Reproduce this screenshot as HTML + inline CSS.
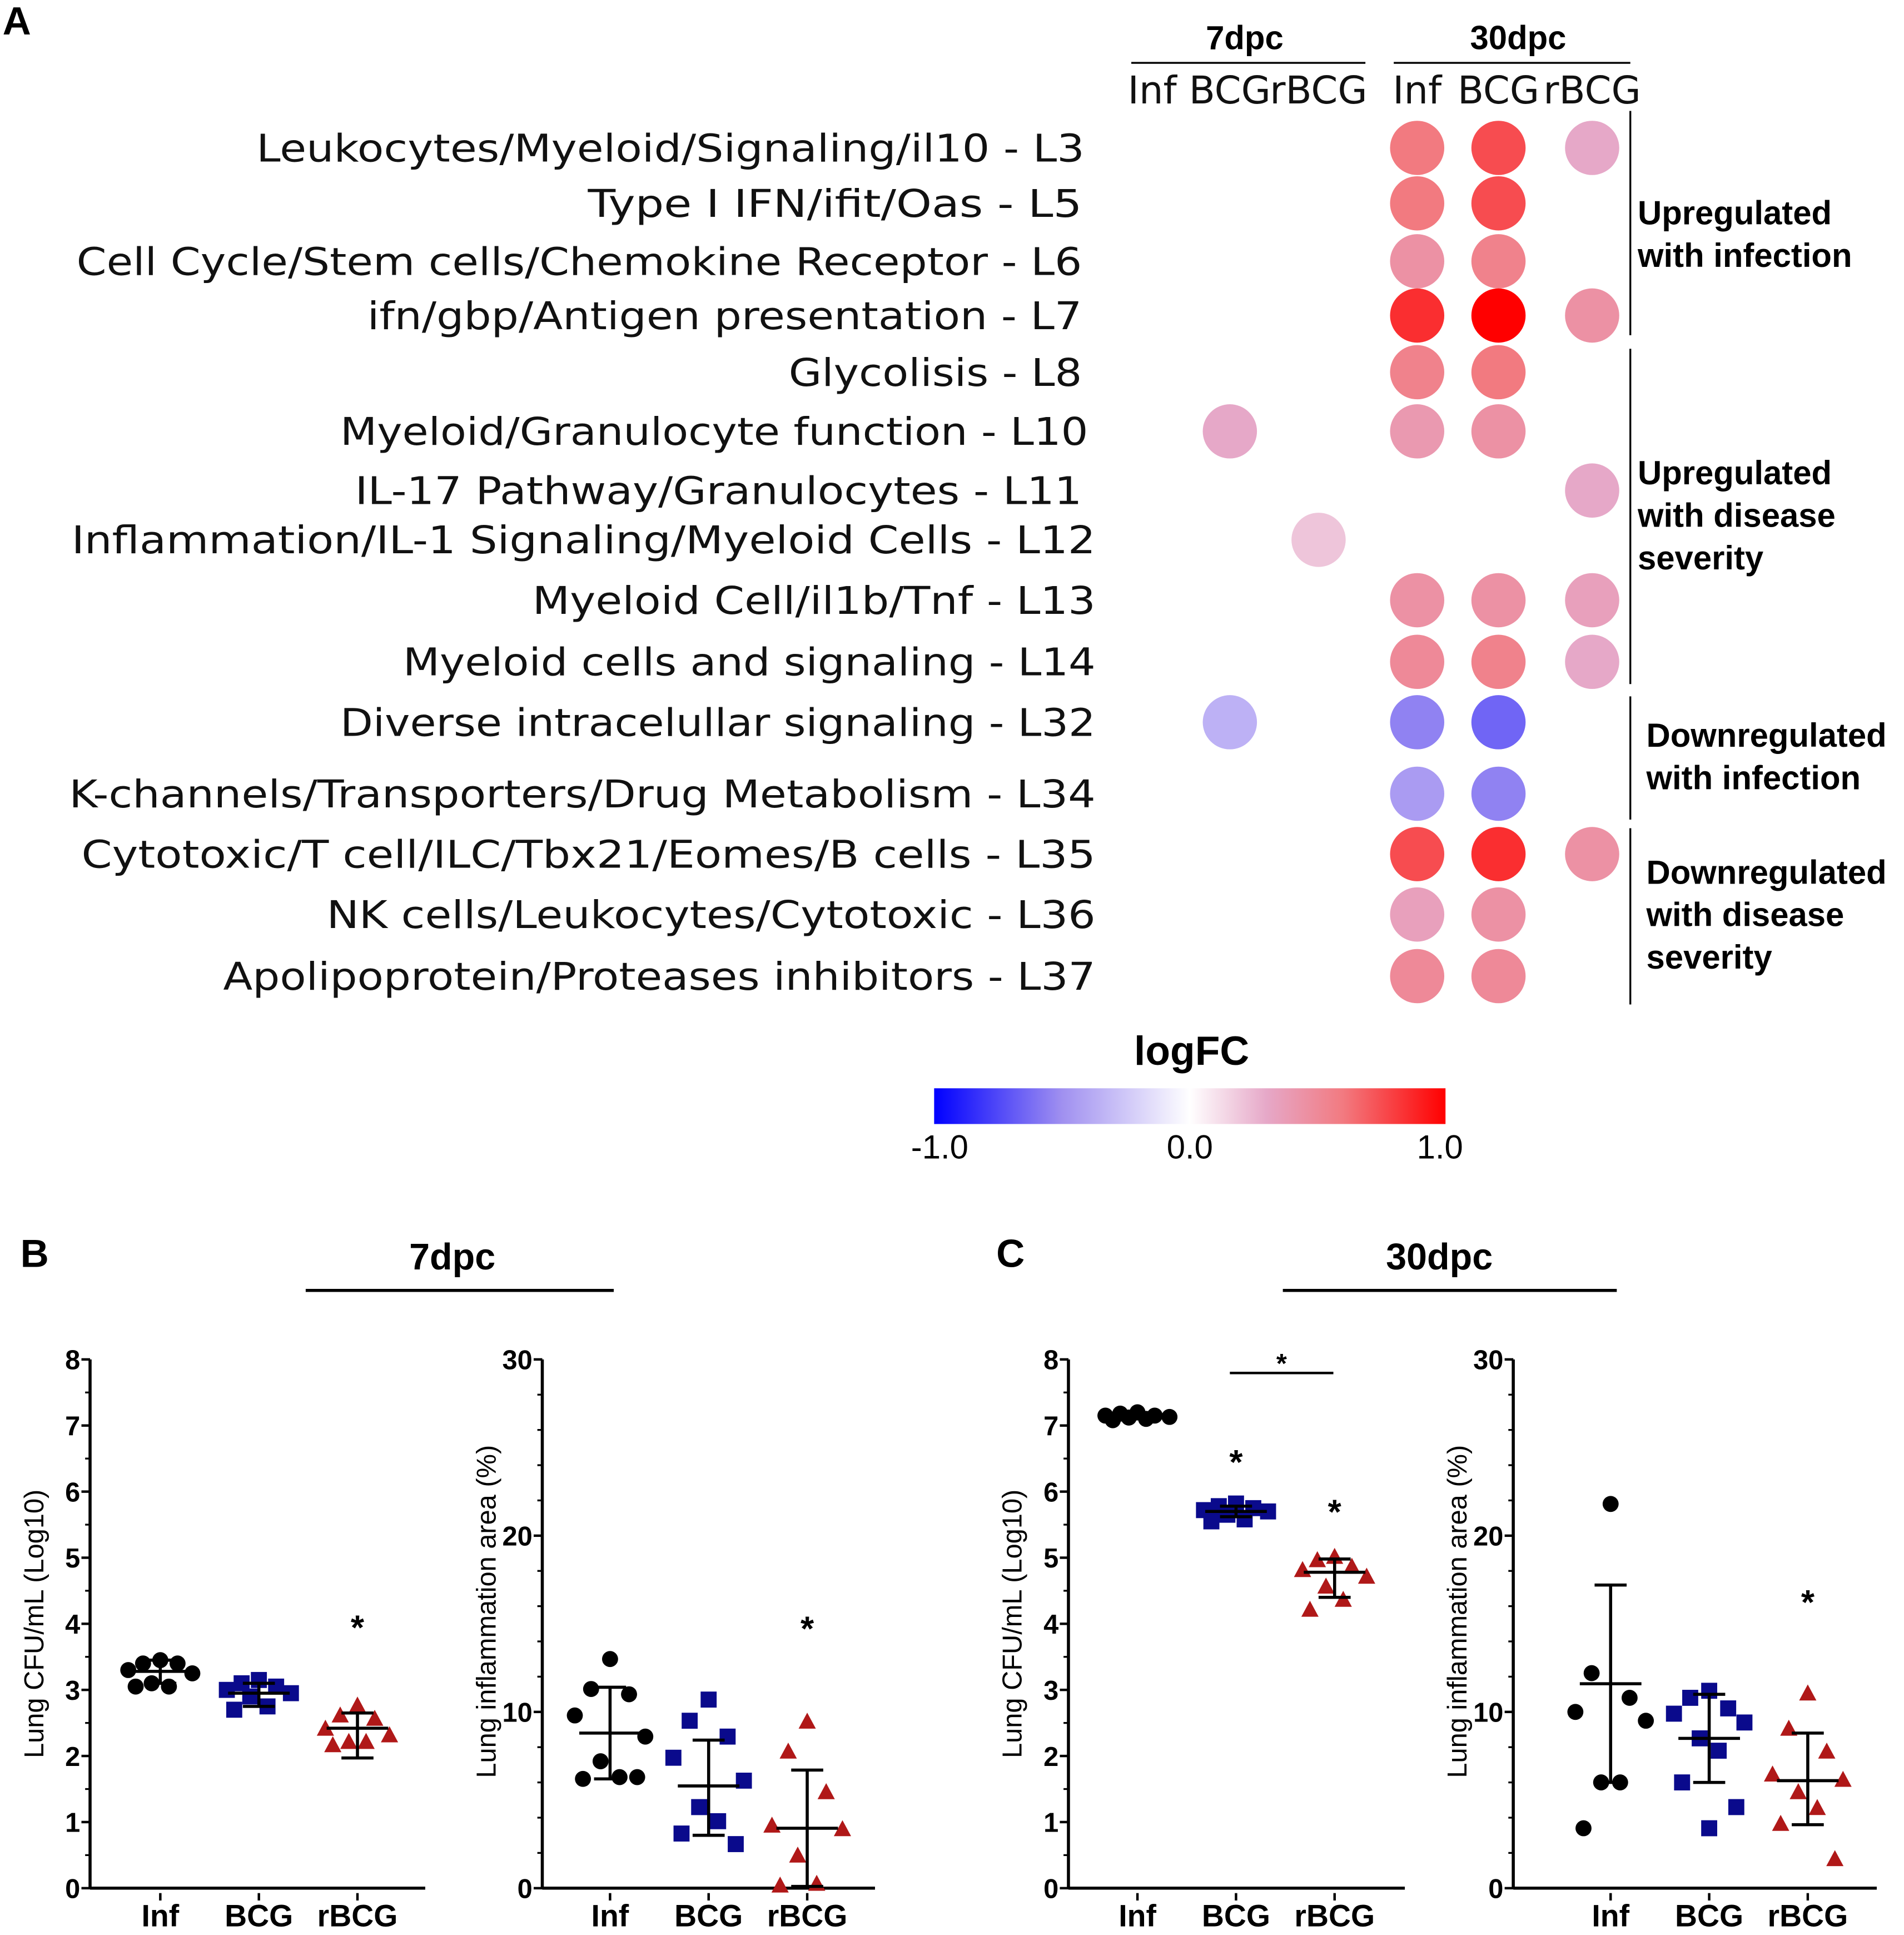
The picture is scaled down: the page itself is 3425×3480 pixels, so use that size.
<!DOCTYPE html>
<html><head><meta charset="utf-8"><style>
html,body{margin:0;padding:0;background:#fff}
svg{display:block}
.lab{font-family:"DejaVu Sans",sans-serif;font-size:31px;fill:#111}
.b{font-family:"Liberation Sans",sans-serif;font-weight:bold;fill:#000}
.n{font-family:"Liberation Sans",sans-serif;fill:#000}
</style></head><body>
<svg id="fig" width="3425" height="3480" viewBox="0 0 1545 1570" xmlns="http://www.w3.org/2000/svg">
<defs>
<linearGradient id="lg" x1="0" x2="1" y1="0" y2="0">
<stop offset="0" stop-color="#0000ff"/><stop offset="0.25" stop-color="#a090f0"/><stop offset="0.5" stop-color="#ffffff"/><stop offset="0.65" stop-color="#e6a8c8"/><stop offset="0.8" stop-color="#f27a80"/><stop offset="1" stop-color="#ff0000"/>
</linearGradient>
</defs>
<g id="pa"></g>
<g id="pb"></g>
</svg>
<script>
const NS='http://www.w3.org/2000/svg';
function mk(p,t,a,txt){const e=document.createElementNS(NS,t);for(const k in a)e.setAttribute(k,a[k]);if(txt!==undefined)e.textContent=txt;p.appendChild(e);return e;}
// ---------- Panel A data ----------
const moduleLabels=["Leukocytes/Myeloid/Signaling/il10 - L3","Type I IFN/ifit/Oas - L5","Cell Cycle/Stem cells/Chemokine Receptor - L6","ifn/gbp/Antigen presentation - L7","Glycolisis - L8","Myeloid/Granulocyte function - L10","IL-17 Pathway/Granulocytes - L11","Inflammation/IL-1 Signaling/Myeloid Cells - L12","Myeloid Cell/il1b/Tnf - L13","Myeloid cells and signaling - L14","Diverse intracelullar signaling - L32","K-channels/Transporters/Drug Metabolism - L34","Cytotoxic/T cell/ILC/Tbx21/Eomes/B cells - L35","NK cells/Leukocytes/Cytotoxic - L36","Apolipoprotein/Proteases inhibitors - L37"];
const groupLabels=["Inf","BCG","rBCG","Inf","BCG","rBCG"];
const logFC=[
[null,null,null,0.6,0.75,0.3],
[null,null,null,0.6,0.75,null],
[null,null,null,0.45,0.55,null],
[null,null,null,0.85,1.0,0.45],
[null,null,null,0.55,0.6,null],
[null,0.3,null,0.4,0.45,null],
[null,null,null,null,null,0.3],
[null,null,0.2,null,null,null],
[null,null,null,0.45,0.45,0.35],
[null,null,null,0.5,0.55,0.3],
[null,-0.35,null,-0.55,-0.65,null],
[null,null,null,-0.45,-0.55,null],
[null,null,null,0.75,0.85,0.45],
[null,null,null,0.35,0.45,null],
[null,null,null,0.5,0.5,null]];
const colX=[935,998,1070,1150,1216,1292];
const rowY=[120,165,212,256,302,350,398,438,487,537,586,644,693,742,792];
const labStart=[208,477,62,298,640,276,288,58,432,327,276,56,66,265,181];
const labEnd=[880,878,878,878,878,883,878,889,889,889,889,889,889,889,889];
function col(v){const st=[[-1,[0,0,255]],[-0.5,[160,144,240]],[0,[255,255,255]],[0.3,[230,168,200]],[0.6,[242,122,128]],[1,[255,0,0]]];
for(let i=0;i<st.length-1;i++){if(v<=st[i+1][0]){const t=(v-st[i][0])/(st[i+1][0]-st[i][0]);const c=st[i][1].map((a,j)=>Math.round(a+(st[i+1][1][j]-a)*t));return `rgb(${c})`;}}return 'rgb(255,0,0)';}
const A=document.getElementById('pa');
let t=mk(A,'text',{x:2,y:28,class:'b','font-size':32},'A');


[[1010,'7dpc',918,1108],[1232,'30dpc',1131,1323]].forEach((h,i)=>{
 let e=mk(A,'text',{x:h[0],y:40,class:'b','font-size':27,'text-anchor':'middle'},h[1]);
 
 
 mk(A,'line',{x1:h[2],x2:h[3],y1:51,y2:51,stroke:'#000','stroke-width':1.5});
});
groupLabels.forEach((g,i)=>{
 let e=mk(A,'text',{x:colX[i],y:84,class:'lab','font-size':27,'text-anchor':'middle'},g);
 
 
});
moduleLabels.forEach((m,i)=>{
 let e=mk(A,'text',{x:labStart[i],y:rowY[i]+11,class:'lab',textLength:labEnd[i]-labStart[i],lengthAdjust:'spacingAndGlyphs'},m);
 
 
 logFC[i].forEach((v,j)=>{ if(v===null)return;
  let c=mk(A,'circle',{cx:colX[j],cy:rowY[i],r:22,fill:col(v)});
  
  
 });
});
[[90,272,1329,['Upregulated','with infection'],174],[283,555,1329,['Upregulated','with disease','severity'],385],[565,665,1336,['Downregulated','with infection'],598],[672,815,1336,['Downregulated','with disease','severity'],709]].forEach(b=>{
 mk(A,'line',{x1:1323,x2:1323,y1:b[0],y2:b[1],stroke:'#000','stroke-width':1.5});
 b[3].forEach((s,k)=>{let e=mk(A,'text',{x:b[2],y:b[4]+8+k*34.5,class:'b','font-size':27},s);
 
 });
});
t=mk(A,'text',{x:967,y:864,class:'b','font-size':33,'text-anchor':'middle'},'logFC');

t=mk(A,'rect',{x:758,y:883,width:415,height:29,fill:'url(#lg)'});

const legTicks=[-1.0,0.0,1.0];
legTicks.forEach(v=>{let e=mk(A,'text',{x:965.5+v*203,y:940,class:'n','font-size':27,'text-anchor':'middle'},v.toFixed(1));
});
// ---------- Panel B/C data ----------
const cats=["Inf","BCG","rBCG"];
const b_cfu=[[3.45,3.4,3.4,3.3,3.25,3.1,3.05,3.05],[3.15,3.1,3.05,3.0,2.95,2.9,2.75,2.7],[2.75,2.6,2.55,2.4,2.3,2.2,2.2,2.15]];
const b_cfu_mean=[3.28,2.95,2.42], b_cfu_lo=[3.1,2.75,1.97], b_cfu_hi=[3.45,3.1,2.65];
const b_inf=[[13.0,11.3,11.0,9.8,8.6,7.2,6.3,6.2,6.3],[10.7,9.5,8.6,7.4,6.1,4.6,3.8,3.1,2.5],[9.4,7.7,5.4,3.5,3.3,1.8,0.2,0.1]];
const b_inf_mean=[8.8,5.8,3.4], b_inf_lo=[6.2,3.0,0.1], b_inf_hi=[11.4,8.4,6.7];
const c_cfu=[[7.2,7.18,7.15,7.15,7.13,7.12,7.1,7.08],[5.82,5.78,5.75,5.72,5.7,5.65,5.58,5.55],[5.0,4.95,4.85,4.8,4.7,4.55,4.35,4.2]];
const c_cfu_mean=[7.14,5.7,4.78], c_cfu_lo=[7.1,5.62,4.4], c_cfu_hi=[7.18,5.78,4.98];
const c_inf=[[21.8,12.2,10.8,10.0,9.5,6.0,6.0,3.4],[11.2,10.8,10.2,9.9,9.4,8.5,7.8,6.0,4.6,3.4],[11.0,9.0,7.7,6.4,6.1,5.4,4.5,3.6,1.6]];
const c_inf_mean=[11.6,8.5,6.1], c_inf_lo=[6.0,6.0,3.6], c_inf_hi=[17.2,11.0,8.8];
const cfuTicks=[0,1,2,3,4,5,6,7,8], infTicks=[0,10,20,30];
const B=document.getElementById('pb');
const jit=[0,-14,14,-26,26,-7,7,-20,20,0,-12,12];
function marker(g,k,x,y){let e;
 if(k===0)e=mk(g,'circle',{cx:x,cy:y,r:6.5,fill:'#000'});
 else if(k===1)e=mk(g,'rect',{x:x-6.5,y:y-6.5,width:13,height:13,fill:'#0a0a8c'});
 else e=mk(g,'polygon',{points:`${x},${y-8} ${x+7},${y+5} ${x-7},${y+5}`,fill:'#b01818'});
 }
function plot(o){
 const g=mk(B,'g',{});
 
 const y0=1532,y1=1103,ys=v=>y0-(v-o.min)/(o.max-o.min)*(y0-y1);
 mk(g,'line',{x1:o.x0,x2:o.x0,y1:y1,y2:y0,stroke:'#000','stroke-width':2.5});
 mk(g,'line',{x1:o.x0,x2:o.x1,y1:y0,y2:y0,stroke:'#000','stroke-width':2.5});
 o.ticks.forEach(v=>{mk(g,'line',{x1:o.x0-7,x2:o.x0,y1:ys(v),y2:ys(v),stroke:'#000','stroke-width':2});
  let e=mk(g,'text',{x:o.x0-8,y:ys(v)+8,class:'b','font-size':22,'text-anchor':'end'},String(v));
  });
 if(o.minor)for(let v=o.min;v<=o.max;v+=o.minor)mk(g,'line',{x1:o.x0-4,x2:o.x0,y1:ys(v),y2:ys(v),stroke:'#000','stroke-width':1.5});
 let e=mk(g,'text',{x:0,y:0,class:'n','font-size':22,'text-anchor':'middle',transform:`translate(${o.x0-38},${(y0+y1)/2+(o.lyo||0)}) rotate(-90)`},o.ylab);
 
 cats.forEach((c,k)=>{const cx=o.cx[k];
  mk(g,'line',{x1:cx,x2:cx,y1:y0+4,y2:y0+10,stroke:'#000','stroke-width':2});
  let l=mk(g,'text',{x:cx,y:1563,class:'b','font-size':25,'text-anchor':'middle'},c);
  
  const pts=o.data[k];
  pts.forEach((v,i)=>{marker(g,k,cx+jit[i%jit.length]*(o.spread||1),ys(v));});
  const m=o.mean[k];
  mk(g,'line',{x1:cx-25,x2:cx+25,y1:ys(m),y2:ys(m),stroke:'#000','stroke-width':2.5});
  mk(g,'line',{x1:cx,x2:cx,y1:ys(o.lo[k]),y2:ys(o.hi[k]),stroke:'#000','stroke-width':2.5});
  mk(g,'line',{x1:cx-13,x2:cx+13,y1:ys(o.lo[k]),y2:ys(o.lo[k]),stroke:'#000','stroke-width':2.5});
  mk(g,'line',{x1:cx-13,x2:cx+13,y1:ys(o.hi[k]),y2:ys(o.hi[k]),stroke:'#000','stroke-width':2.5});
 });
 (o.stars||[]).forEach(s=>{let st=mk(g,'text',{x:o.cx[s[0]],y:ys(s[1])+18,class:'b','font-size':28,'text-anchor':'middle'},'*');
  });
}
plot({name:'b-cfu-plot',x0:73,x1:345,cx:[130,210,290],min:0,max:8,ticks:cfuTicks,minor:0.5,ylab:'Lung CFU/mL (Log10)',data:b_cfu,mean:b_cfu_mean,lo:b_cfu_lo,hi:b_cfu_hi,stars:[[2,4.1]]});
plot({name:'b-inflammation-plot',x0:440,x1:710,cx:[495,575,655],min:0,max:30,ticks:infTicks,minor:2,ylab:'Lung inflammation area (%)',lyo:-10,data:b_inf,mean:b_inf_mean,lo:b_inf_lo,hi:b_inf_hi,stars:[[2,15.3]],spread:1.1});
plot({name:'c-cfu-plot',x0:867,x1:1140,cx:[923,1003,1083],min:0,max:8,ticks:cfuTicks,minor:0.5,ylab:'Lung CFU/mL (Log10)',data:c_cfu,mean:c_cfu_mean,lo:c_cfu_lo,hi:c_cfu_hi,stars:[[1,6.6],[2,5.85]]});
plot({name:'c-inflammation-plot',x0:1228,x1:1523,cx:[1307,1387,1467],min:0,max:30,ticks:infTicks,minor:2,ylab:'Lung inflammation area (%)',lyo:-10,data:c_inf,mean:c_inf_mean,lo:c_inf_lo,hi:c_inf_hi,stars:[[2,16.8]],spread:1.1});
mk(B,'line',{x1:998,x2:1082,y1:1114,y2:1114,stroke:'#000','stroke-width':2});
t=mk(B,'text',{x:1040,y:1114,class:'b','font-size':22,'text-anchor':'middle'},'*');

[[28,'B'],[820,'C']].forEach(p=>{let e=mk(B,'text',{x:p[0],y:1028,class:'b','font-size':32,'text-anchor':'middle'},p[1]);
});
[[367,'7dpc',248,498],[1168,'30dpc',1041,1312]].forEach(h=>{let e=mk(B,'text',{x:h[0],y:1030,class:'b','font-size':30,'text-anchor':'middle'},h[1]);

mk(B,'line',{x1:h[2],x2:h[3],y1:1047,y2:1047,stroke:'#000','stroke-width':2.5});});
</script>
</body></html>
